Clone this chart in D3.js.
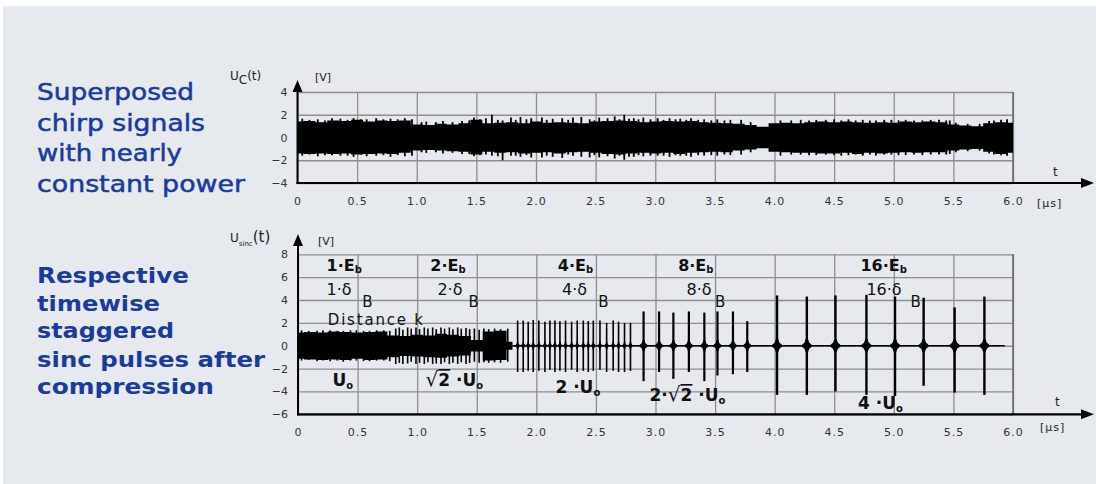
<!DOCTYPE html>
<html>
<head>
<meta charset="utf-8">
<script src="https://cdn.jsdelivr.net/npm/d3@7"></script>
<style>
body { margin: 0; background: #fff; }
svg text { font-family: "DejaVu Sans", sans-serif; }
</style>
</head>
<body>
<svg id="chart" width="1096" height="484"></svg>
<script>
// ---- data ----
var timeTicks = [0, 0.5, 1, 1.5, 2, 2.5, 3, 3.5, 4, 4.5, 5, 5.5, 6];
var timeLabels = ["0", "0.5", "1.0", "1.5", "2.0", "2.5", "3.0", "3.5", "4.0", "4.5", "5.0", "5.5", "6.0"];
var chirpTicks = [-4, -2, 0, 2, 4];
var sincTicks = [-6, -4, -2, 0, 2, 4, 6, 8];

// chirp envelope, one value every 0.1 µs from 0 to 6.0
var chirpUpper = [1.4, 1.45, 1.35, 1.5, 1.45, 1.55, 1.4, 1.5, 1.45, 1.5,
    1.15, 1.1, 1.2, 1.15, 1.25, 1.55, 1.25, 1.3, 1.35, 1.25,
    1.4, 1.3, 1.35, 1.3, 1.25, 1.4, 1.45, 1.5, 1.45, 1.35,
    1.4, 1.45, 1.4, 1.45, 1.35, 1.3, 1.25, 1.2, 1.1, 0.95,
    1.25, 1.3, 1.25, 1.35, 1.4, 1.35, 1.4, 1.35, 1.3, 1.35,
    1.3, 1.4, 1.35, 1.4, 1.35, 1.15, 1.05, 1.0, 1.25, 1.35, 1.3];
var chirpLower = [-1.4, -1.45, -1.4, -1.45, -1.4, -1.5, -1.45, -1.4, -1.45, -1.35,
    -1.15, -1.1, -1.15, -1.2, -1.25, -1.5, -1.25, -1.35, -1.3, -1.4,
    -1.35, -1.3, -1.4, -1.3, -1.25, -1.35, -1.45, -1.5, -1.4, -1.35,
    -1.4, -1.35, -1.45, -1.35, -1.3, -1.25, -1.3, -1.15, -1.05, -0.95,
    -1.25, -1.3, -1.35, -1.35, -1.4, -1.4, -1.35, -1.45, -1.35, -1.4,
    -1.35, -1.3, -1.35, -1.3, -1.3, -1.15, -1.05, -1.0, -1.25, -1.45, -1.35];
// single strokes sticking out of the chirp band: [t, top, bottom]
var chirpSpikes = [[0.04, 1.65, -1.6], [0.1, 1.55, -1.5], [0.17, 1.6, -1.65], [0.23, 1.5, -1.55],
    [0.29, 1.7, -1.55], [0.36, 1.65, -1.6], [0.42, 1.55, -1.6], [0.47, 1.7, -1.7], [0.53, 1.6, -1.5],
    [0.58, 1.6, -1.65], [0.66, 1.7, -1.6], [0.72, 1.6, -1.55], [0.78, 1.65, -1.7], [0.84, 1.6, -1.55],
    [0.9, 1.7, -1.65], [0.96, 1.6, -1.6], [1.04, 1.35, -1.3], [1.08, 1.4, -1.35], [1.16, 1.35, -1.3],
    [1.22, 1.45, -1.4], [1.3, 1.35, -1.35], [1.38, 1.45, -1.45], [1.44, 1.5, -1.45], [1.48, 1.75, -1.65],
    [1.53, 1.6, -1.55], [1.58, 1.7, -1.5], [1.63, 2.0, -1.6], [1.68, 1.55, -1.65], [1.72, 1.5, -2.0],
    [1.79, 1.75, -1.6], [1.83, 1.55, -1.6], [1.87, 1.8, -1.7], [1.92, 1.6, -1.55], [1.96, 1.7, -1.75],
    [2.05, 1.75, -1.75], [2.09, 1.55, -1.6], [2.14, 1.65, -1.7], [2.22, 1.7, -1.8], [2.27, 1.55, -1.5],
    [2.31, 1.75, -1.6], [2.38, 1.8, -1.7], [2.45, 1.6, -1.75], [2.49, 1.5, -1.55], [2.53, 1.75, -1.75],
    [2.6, 1.7, -1.65], [2.66, 1.85, -1.85], [2.7, 1.6, -1.6], [2.74, 2.0, -1.95], [2.78, 1.65, -1.7],
    [2.82, 1.7, -1.7], [2.86, 1.6, -1.55], [2.9, 1.75, -1.65], [2.96, 1.6, -1.6], [3.02, 1.7, -1.6],
    [3.07, 1.55, -1.6], [3.12, 1.7, -1.7], [3.17, 1.6, -1.55], [3.21, 1.65, -1.6], [3.26, 1.55, -1.6],
    [3.3, 1.7, -1.7], [3.36, 1.55, -1.55], [3.41, 1.6, -1.6], [3.47, 1.5, -1.55], [3.52, 1.6, -1.6],
    [3.58, 1.5, -1.5], [3.63, 1.55, -1.55], [3.72, 1.55, -1.5], [3.8, 1.35, -1.3], [4.05, 1.5, -1.6],
    [4.14, 1.5, -1.5], [4.22, 1.55, -1.5], [4.29, 1.5, -1.55], [4.35, 1.55, -1.55], [4.43, 1.55, -1.5],
    [4.5, 1.6, -1.55], [4.56, 1.5, -1.6], [4.62, 1.6, -1.55], [4.68, 1.5, -1.5], [4.74, 1.55, -1.6],
    [4.8, 1.5, -1.5], [4.85, 1.5, -1.6], [4.92, 1.55, -1.5], [4.98, 1.55, -1.5], [5.04, 1.5, -1.55],
    [5.1, 1.55, -1.55], [5.17, 1.5, -1.5], [5.24, 1.5, -1.55], [5.31, 1.55, -1.5], [5.38, 1.55, -1.5],
    [5.44, 1.5, -1.5], [5.47, 1.5, -1.45], [5.52, 1.3, -1.3], [5.62, 1.2, -1.2], [5.72, 1.2, -1.15],
    [5.8, 1.45, -1.4], [5.84, 1.5, -1.5], [5.9, 1.55, -1.55], [5.95, 1.6, -1.6]];

// compressed signal: dense band from 0 to 1.8 µs, one value every 0.1 µs
var sincUpper = [1.15, 1.2, 1.15, 1.25, 1.2, 1.15, 1.2, 1.25, 0.9, 0.85, 0.95, 0.9, 1.05, 0.95, 0.85, 0.5, 1.25, 1.3, 0.35];
var sincLower = [-1.15, -1.2, -1.25, -1.2, -1.25, -1.15, -1.25, -1.2, -1.0, -0.9, -0.95, -1.0, -1.05, -0.95, -0.85, -0.5, -1.3, -1.25, -0.35];
var sincSpikes = [[0.03, 1.35, -1.3], [0.09, 1.3, -1.25], [0.16, 1.3, -1.35], [0.21, 1.35, -1.3],
    [0.27, 1.35, -1.35], [0.33, 1.3, -1.3], [0.38, 1.3, -1.4], [0.44, 1.35, -1.3], [0.49, 1.35, -1.3],
    [0.55, 1.3, -1.35], [0.6, 1.3, -1.35], [0.66, 1.35, -1.3], [0.72, 1.35, -1.3], [0.77, 1.3, -1.35],
    [0.82, 1.5, -1.6], [0.85, 1.6, -1.5], [0.88, 1.4, -1.6], [0.92, 1.6, -1.55], [0.95, 1.5, -1.4],
    [0.99, 1.6, -1.6], [1.02, 1.45, -1.5], [1.06, 1.6, -1.6], [1.09, 1.5, -1.45], [1.13, 1.6, -1.6],
    [1.16, 1.45, -1.55], [1.2, 1.6, -1.6], [1.23, 1.5, -1.45], [1.27, 1.6, -1.6], [1.3, 1.45, -1.5],
    [1.34, 1.6, -1.6], [1.37, 1.5, -1.45], [1.41, 1.55, -1.6], [1.44, 1.45, -1.5], [1.48, 1.5, -1.4],
    [1.52, 1.4, -1.5], [1.56, 1.5, -1.45], [1.6, 1.45, -1.5], [1.65, 1.5, -1.45], [1.7, 1.45, -1.5], [1.76, 1.5, -1.4]];
// pulse groups: [t, top, bottom]
var pulses4 = [[1.843, 2.2, -2.3], [1.89, 2.2, -2.3], [1.932, 2.1, -2.2], [1.974, 2.25, -2.3],
    [2.021, 2.2, -2.2], [2.072, 2.1, -2.3], [2.114, 2.2, -2.1], [2.156, 2.2, -2.3], [2.198, 2.15, -2.2],
    [2.245, 2.2, -2.3], [2.296, 2.1, -2.1], [2.343, 2.2, -2.3], [2.394, 2.2, -2.2], [2.436, 2.15, -2.3],
    [2.478, 2.2, -2.2], [2.534, 2.2, -2.1], [2.59, 2.0, -2.3], [2.645, 2.2, -2.2], [2.69, 2.1, -2.3],
    [2.74, 2.0, -2.3], [2.79, 2.0, -2.2]];
var pulses8 = [[2.9, 3.0, -3.1], [3.03, 3.0, -2.3], [3.15, 2.9, -2.9], [3.28, 3.0, -2.3],
    [3.41, 2.9, -3.1], [3.52, 3.0, -2.6], [3.65, 3.0, -2.5], [3.77, 2.15, -2.3]];
var pulses16 = [[4.02, 4.4, -4.3], [4.27, 4.3, -4.3], [4.51, 4.4, -4.0], [4.77, 4.45, -4.3],
    [5.01, 4.3, -4.4], [5.25, 4.2, -3.5], [5.51, 3.35, -4.1], [5.76, 4.3, -4.3]];
var sidelobes = [0.4, 0.5, 0.6];

var leftTop = ["Superposed", "chirp signals", "with nearly", "constant power"];
var leftBottom = ["Respective", "timewise", "staggered", "sinc pulses after", "compression"];

// ---- layout ----
var svg = d3.select("#chart");
var blue = "#1a3a9c";
svg.append("rect").attr("x", 3).attr("y", 6).attr("width", 1093).attr("height", 478).attr("fill", "#e6e9ee");

var xTop = d3.scaleLinear().domain([0, 6]).range([297.5, 1013]);
var yTop = d3.scaleLinear().domain([-4, 4]).range([183, 92]);
var xBot = d3.scaleLinear().domain([0, 6]).range([298, 1013]);
var yBot = d3.scaleLinear().domain([-6, 8]).range([414.3, 254.3]);

function frame(x, y, yTicks) {
    var g = svg.append("g");
    var h = y.range()[0] - y.range()[1];
    g.append("g")
        .attr("transform", "translate(0," + y.range()[0] + ")")
        .call(d3.axisBottom(x).tickValues(timeTicks).tickSize(-h).tickPadding(14)
            .tickFormat(function(d, i) { return timeLabels[i]; }))
        .call(function(a) {
            a.select(".domain").remove();
            a.selectAll("line").attr("stroke", "#8e8e8e").attr("stroke-width", 1.3);
            a.selectAll("text").attr("font-size", 11).attr("fill", "#333").attr("letter-spacing", 1);
        });
    g.append("g")
        .attr("transform", "translate(" + x(0) + ",0)")
        .call(d3.axisLeft(y).tickValues(yTicks).tickSize(-(x(6) - x(0))).tickPadding(10))
        .call(function(a) {
            a.select(".domain").remove();
            a.selectAll("line").attr("stroke", "#8e8e8e").attr("stroke-width", 1.3);
            a.selectAll("text").attr("font-size", 11).attr("fill", "#333");
        });
    // right border
    g.append("line").attr("x1", x(6)).attr("x2", x(6)).attr("y1", y.range()[1]).attr("y2", y.range()[0])
        .attr("stroke", "#666").attr("stroke-width", 1.5);
    return g;
}

function axesOnTop(x, y, arrowTop) {
    var y0 = y.range()[0];
    svg.append("line").attr("x1", x(0)).attr("x2", x(0)).attr("y1", y0 + 1).attr("y2", arrowTop + 6)
        .attr("stroke", "#000").attr("stroke-width", 2);
    svg.append("path").attr("d", "M" + x(0) + "," + arrowTop + "l-5,12l10,0z").attr("fill", "#000");
    svg.append("line").attr("x1", x(0) - 1).attr("x2", 1085).attr("y1", y0).attr("y2", y0)
        .attr("stroke", "#000").attr("stroke-width", 2.2);
    svg.append("path").attr("d", "M1094," + y0 + "l-13,-5l0,10z").attr("fill", "#000");
}

frame(xTop, yTop, chirpTicks);
frame(xBot, yBot, sincTicks);

// ---- chirp signal ----
var chirpArea = d3.area()
    .x(function(d, i) { return xTop(i * 0.1); })
    .y0(function(d) { return yTop(d[1]); })
    .y1(function(d) { return yTop(d[0]); })
    .curve(d3.curveStep);
svg.append("path")
    .datum(d3.zip(chirpUpper, chirpLower))
    .attr("d", chirpArea)
    .attr("fill", "#000");
svg.append("g").selectAll("line").data(chirpSpikes).join("line")
    .attr("x1", function(d) { return xTop(d[0]); }).attr("x2", function(d) { return xTop(d[0]); })
    .attr("y1", function(d) { return yTop(d[1]); }).attr("y2", function(d) { return yTop(d[2]); })
    .attr("stroke", "#000").attr("stroke-width", 1.8);

// ---- sinc signal ----
var sincArea = d3.area()
    .x(function(d, i) { return xBot(i * 0.1); })
    .y0(function(d) { return yBot(d[1]); })
    .y1(function(d) { return yBot(d[0]); })
    .curve(d3.curveStep);
svg.append("path")
    .datum(d3.zip(sincUpper, sincLower))
    .attr("d", sincArea)
    .attr("fill", "#000");
svg.append("g").selectAll("line").data(sincSpikes).join("line")
    .attr("x1", function(d) { return xBot(d[0]); }).attr("x2", function(d) { return xBot(d[0]); })
    .attr("y1", function(d) { return yBot(d[1]); }).attr("y2", function(d) { return yBot(d[2]); })
    .attr("stroke", "#000").attr("stroke-width", 1.6);

// zero line under the pulses
svg.append("line").attr("x1", xBot(1.8)).attr("x2", xBot(5.93)).attr("y1", yBot(0)).attr("y2", yBot(0))
    .attr("stroke", "#000").attr("stroke-width", 1.6);

var lobe = d3.area()
    .x(function(d) { return xBot(d[0]); })
    .y0(function(d) { return yBot(-d[1]); })
    .y1(function(d) { return yBot(d[1]); });

[[pulses4, sidelobes[0], 0.018, 1.6], [pulses8, sidelobes[1], 0.035, 2.2], [pulses16, sidelobes[2], 0.045, 2.4]]
    .forEach(function(grp) {
        var g = svg.append("g");
        g.selectAll("path").data(grp[0]).join("path")
            .attr("d", function(d) {
                var w = grp[2], a = grp[1];
                return lobe([[d[0] - w, 0.05], [d[0] - w * 0.7, a * 0.3], [d[0] - w * 0.45, a * 0.45],
                    [d[0] - w * 0.2, a], [d[0] + w * 0.2, a], [d[0] + w * 0.45, a * 0.45],
                    [d[0] + w * 0.7, a * 0.3], [d[0] + w, 0.05]]);
            })
            .attr("fill", "#000");
        g.selectAll("line").data(grp[0]).join("line")
            .attr("x1", function(d) { return xBot(d[0]); }).attr("x2", function(d) { return xBot(d[0]); })
            .attr("y1", function(d) { return yBot(d[1]); }).attr("y2", function(d) { return yBot(d[2]); })
            .attr("stroke", "#000").attr("stroke-width", grp[3]);
    });

axesOnTop(xTop, yTop, 80);
axesOnTop(xBot, yBot, 234);

// ---- axis titles ----
function axisTitle(x, y, main, sub, subSize, rest, restSize) {
    var t = svg.append("text").attr("x", x).attr("y", y).attr("fill", "#222").attr("font-size", 12);
    t.append("tspan").text(main);
    t.append("tspan").attr("dy", 4).attr("font-size", subSize).text(sub);
    t.append("tspan").attr("dy", -4).attr("font-size", restSize).text(rest);
}
axisTitle(230, 80, "U", "C", 12, "(t)", 12);
svg.append("text").attr("x", 315).attr("y", 81).attr("font-size", 11).attr("fill", "#222").text("[V]");
axisTitle(230, 242, "U", "sinc", 7, "(t)", 15);
svg.append("text").attr("x", 318).attr("y", 245).attr("font-size", 11).attr("fill", "#222").text("[V]");

[[183, 1053, 176, 1037, 207], [414.3, 1055, 406, 1040, 431]].forEach(function(p) {
    svg.append("text").attr("x", p[1]).attr("y", p[2]).attr("font-size", 12).attr("fill", "#222").text("t");
    svg.append("text").attr("x", p[3]).attr("y", p[4]).attr("font-size", 11).attr("fill", "#222")
        .attr("letter-spacing", 1).text("[µs]");
});

// ---- left descriptions ----
var topWidths = [157, 168, 145, 208];
leftTop.forEach(function(s, i) {
    svg.append("text").attr("x", 37).attr("y", 100 + i * 30.5)
        .attr("font-size", 23).attr("fill", blue).attr("stroke", blue).attr("stroke-width", 0.5)
        .attr("textLength", topWidths[i]).attr("lengthAdjust", "spacingAndGlyphs").text(s);
});
var botWidths = [152, 123, 137, 228, 177];
var botBase = [283, 311, 338, 367, 394];
leftBottom.forEach(function(s, i) {
    svg.append("text").attr("x", 37).attr("y", botBase[i])
        .attr("font-size", 22).attr("font-weight", "bold").attr("fill", blue)
        .attr("textLength", botWidths[i]).attr("lengthAdjust", "spacingAndGlyphs").text(s);
});

// ---- annotations in the sinc panel (data coordinates) ----
var energyLabels = [["1·E", 0.24], ["2·E", 1.11], ["4·E", 2.18], ["8·E", 3.19], ["16·E", 4.72]];
var widthLabels = [["1·δ", 0.24, 0.54], ["2·δ", 1.17, 1.43], ["4·δ", 2.215, 2.52], ["8·δ", 3.26, 3.50], ["16·δ", 4.77, 5.14]];
var ann = svg.append("g").attr("fill", "#111");
energyLabels.forEach(function(d) {
    var t = ann.append("text").attr("x", xBot(d[1])).attr("y", yBot(6.53))
        .attr("font-size", 16).attr("font-weight", "bold");
    t.append("tspan").text(d[0]);
    t.append("tspan").attr("dy", 2).attr("font-size", 10).text("b");
});
widthLabels.forEach(function(d) {
    ann.append("text").attr("x", xBot(d[1])).attr("y", yBot(4.43)).attr("font-size", 16).text(d[0]);
    ann.append("text").attr("x", xBot(d[2])).attr("y", yBot(3.38)).attr("font-size", 15).text("B");
});
ann.append("text").attr("x", xBot(0.25)).attr("y", yBot(1.78)).attr("font-size", 15)
    .attr("letter-spacing", 1.8).text("Distance  k");

function ampLabel(t0, v, parts) {
    var t = ann.append("text").attr("x", xBot(t0)).attr("y", yBot(v) + 6)
        .attr("font-size", 17).attr("font-weight", "bold");
    parts.forEach(function(p) {
        var s = t.append("tspan").text(p[0]);
        if (p[1] === "sub") s.attr("dy", 3).attr("font-size", 10);
        if (p[1] === "root") s.attr("font-weight", "normal").attr("font-size", 20);
        if (p[1] === "over") s.attr("text-decoration", "overline");
    });
}
ampLabel(0.29, -3.0, [["U"], ["o", "sub"]]);
ampLabel(1.07, -3.0, [["√", "root"], ["2", "over"], [" ·U"], ["o", "sub"]]);
ampLabel(2.16, -3.61, [["2 ·U"], ["o", "sub"]]);
ampLabel(2.95, -4.31, [["2·", ""], ["√", "root"], ["2", "over"], [" ·U"], ["o", "sub"]]);
ampLabel(4.70, -4.99, [["4 ·U"], ["o", "sub"]]);
</script>
</body>
</html>
